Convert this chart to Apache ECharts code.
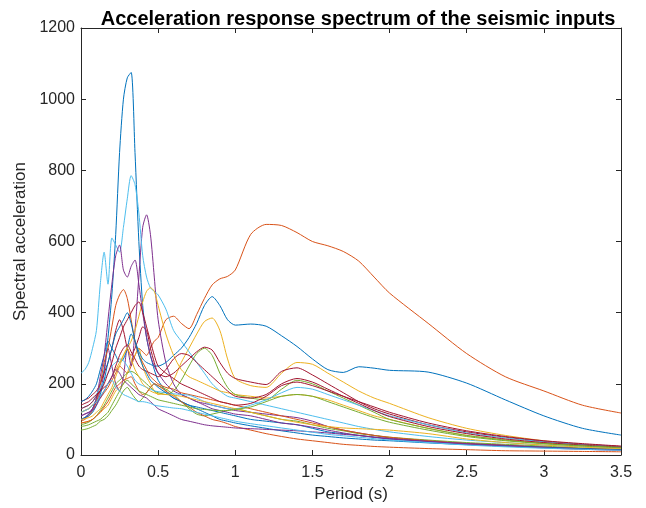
<!DOCTYPE html>
<html>
<head>
<meta charset="utf-8">
<script src="https://cdn.jsdelivr.net/npm/echarts@6/dist/echarts.min.js"></script>
<style>
html,body{margin:0;padding:0;background:#fff;}
#chart{width:646px;height:508px;}
</style>
</head>
<body>
<div id="chart"></div>
<script>
// periods (s)
var periods = [0,0.025,0.05,0.075,0.1,0.125,0.15,0.175,0.2,0.225,
  0.25,0.275,0.3,0.325,0.35,0.375,0.4,0.425,0.45,0.475,
  0.5,0.55,0.6,0.65,0.7,0.75,0.8,0.85,0.9,0.95,
  1.0,1.1,1.2,1.3,1.4,1.5,1.6,1.7,1.8,1.9,
  2.0,2.25,2.5,2.75,3.0,3.25,3.5];

// matlab default colour order
var colors = ['#0072BD','#D95319','#EDB120','#7E2F8E','#77AC30','#4DBEEE','#A2142F'];

var rec1 = [100,105,115,130,160,200,240,330,450,620, 850,1000,1060,1075,850,600,420,330,280,240, 210,180,160,150,140,135,130,125,120,115, 110,100,95,90,85,75,65,60,55,50, 45,38,32,27,22,18,15];
var rec2 = [120,125,130,140,150,160,175,190,210,230, 250,240,230,250,280,300,290,280,300,320, 330,380,390,370,355,395,440,478,495,502, 520,620,648,645,625,600,588,572,545,500, 455,370,285,220,180,140,118];
var rec3 = [90,92,95,100,110,120,130,140,160,180, 190,200,230,260,280,300,250,220,200,180, 170,180,210,260,300,340,375,385,350,270, 215,195,190,230,260,255,230,205,180,160, 145,105,75,55,40,30,24];
var rec4 = [110,115,120,130,150,180,230,300,250,200, 180,220,300,250,350,500,640,675,620,500, 380,260,200,170,160,150,145,140,135,130, 125,120,115,110,105,95,80,70,62,55, 48,40,33,27,22,18,15];
var rec5 = [70,72,75,80,85,95,100,110,125,140, 160,180,190,175,160,150,160,175,190,200, 195,185,170,150,130,115,110,115,120,125, 130,120,110,100,95,85,75,68,60,55, 50,42,35,30,25,20,17];
var rec6 = [230,240,260,300,350,480,570,480,610,590, 570,640,720,785,760,680,560,500,470,460, 450,410,350,320,290,260,230,200,180,165, 160,150,140,130,120,110,100,90,80,72, 65,52,42,35,28,23,19];
var rec7 = [150,155,160,170,180,200,230,260,300,350, 380,350,300,280,300,330,360,350,300,260, 230,220,230,250,270,290,303,295,260,230, 215,205,198,235,245,225,200,175,150,130, 115,85,65,50,38,30,24];
var rec8 = [150,155,165,180,200,240,280,320,300,280, 260,270,300,340,320,290,270,260,255,250, 250,260,280,300,330,370,420,445,420,380, 365,368,362,335,305,270,240,232,248,244, 238,233,202,155,110,75,56];
var rec9 = [95,100,110,125,150,200,260,300,360,420, 450,465,440,380,320,280,260,240,220,210, 200,190,185,175,170,165,160,155,150,145, 140,130,120,110,100,90,80,70,62,55, 50,40,32,27,22,18,15];
var rec10 = [120,125,130,140,150,165,180,200,220,240, 260,280,300,320,350,390,430,460,470,460, 420,340,280,240,220,210,200,190,180,175, 170,165,160,165,170,165,155,140,125,110, 100,75,55,42,33,27,22];
var rec11 = [100,105,115,130,160,220,280,380,480,560, 590,520,500,530,548,480,400,330,280,250, 230,200,180,170,160,150,140,130,125,120, 115,110,100,90,85,78,70,62,55,50, 45,38,32,27,22,18,15];
var rec12 = [85,88,92,100,110,125,140,160,180,200, 210,220,230,235,230,220,210,200,190,180, 175,170,180,210,250,285,300,280,230,190, 170,160,155,185,210,200,180,160,140,120, 100,75,55,42,32,25,20];
var rec13 = [130,135,140,150,170,190,210,230,250,260, 270,265,250,230,210,200,195,190,185,180, 178,175,172,170,168,160,150,140,135,130, 130,140,155,175,190,185,170,155,140,125, 110,85,62,48,37,29,23];
var rec14 = [140,145,150,160,170,180,190,200,220,250, 280,300,310,290,270,250,240,235,230,225, 220,240,270,285,280,260,240,220,200,180, 165,160,170,200,215,205,185,165,145,125, 108,80,60,45,35,28,22];
var rec15 = [100,105,110,120,140,170,210,260,300,340, 360,380,400,370,320,280,250,230,210,200, 190,175,160,150,140,130,120,110,100,95, 90,82,75,68,62,56,52,48,45,42, 40,34,29,25,21,18,15];
var rec16 = [90,92,95,100,110,120,135,150,170,190, 200,210,215,220,200,180,170,175,190,200, 195,180,165,150,135,120,110,100,95,88, 80,70,60,52,45,40,35,30,27,24, 22,18,15,12,11,10,9];
var rec17 = [100,102,105,110,120,130,150,170,190,220, 250,280,300,270,240,220,200,190,180,175, 172,170,168,165,160,155,150,145,140,135, 130,120,110,100,92,85,80,76,74,72, 70,60,45,35,28,22,18];
var rec18 = [110,115,120,125,140,160,180,200,220,240, 230,210,200,190,180,170,165,160,150,140, 130,120,110,100,95,90,85,82,80,78, 76,74,72,70,68,65,62,58,55,50, 46,38,30,25,20,16,13];
var rec19 = [80,82,85,90,95,100,110,120,140,160, 180,200,210,200,190,180,175,170,165,160, 155,150,145,140,135,130,128,126,125,125, 128,135,150,165,170,165,150,135,120,105, 92,70,52,40,32,26,21];
var rec20 = [120,125,130,140,150,165,180,200,210,190, 180,170,165,160,155,150,150,148,145,140, 138,135,132,130,125,120,115,110,105,100, 95,88,82,76,70,64,58,54,50,46, 42,35,28,23,19,16,13];
var rec21 = [130,135,140,150,165,180,200,230,260,300, 330,360,380,400,420,430,400,360,320,280, 250,230,215,200,190,180,170,160,150,145, 140,145,165,195,205,195,180,165,150,135, 120,90,68,52,40,32,25];

var records = [rec1,rec2,rec3,rec4,rec5,rec6,rec7,rec8,rec9,rec10,rec11,
  rec12,rec13,rec14,rec15,rec16,rec17,rec18,rec19,rec20,rec21];

var myChart = echarts.init(document.getElementById('chart'));
var axisCol = '#262626';
var font = 'Liberation Sans, Arial, sans-serif';

var series = [];
for (var i = 0; i < records.length; i++) {
  var pts = [];
  for (var j = 0; j < periods.length; j++) {
    pts.push([periods[j], records[i][j]]);
  }
  series.push({
    type: 'line',
    data: pts,
    showSymbol: false,
    smooth: 0.25,
    lineStyle: {width: 1, color: colors[i % 7]},
    itemStyle: {color: colors[i % 7]},
    silent: true,
    animation: false
  });
}

// box axes: ticks pointing in, no labels
function boxAxis(pos, min, max, step) {
  return {
    type: 'value', min: min, max: max, interval: step, position: pos,
    axisLine: {show: true, onZero: false, lineStyle: {color: axisCol}},
    axisTick: {show: true, inside: true, length: 5, lineStyle: {color: axisCol}},
    axisLabel: {show: false}, splitLine: {show: false}
  };
}

var option = {
  backgroundColor: '#fff',
  animation: false,
  title: {
    text: 'Acceleration response spectrum of the seismic inputs',
    left: 353,
    textAlign: 'center',
    top: 4,
    textStyle: {fontFamily: font, fontSize: 20, fontWeight: 'bold', color: '#000'}
  },
  grid: {left: 81, right: 25, top: 28, bottom: 53},
  xAxis: [{
    type: 'value', min: 0, max: 3.5, interval: 0.5,
    name: 'Period (s)', nameLocation: 'middle', nameGap: 31,
    nameTextStyle: {fontFamily: font, fontSize: 17, color: axisCol},
    axisLine: {show: true, onZero: false, lineStyle: {color: axisCol}},
    axisTick: {show: true, inside: true, length: 5, lineStyle: {color: axisCol}},
    axisLabel: {fontFamily: font, fontSize: 16, color: axisCol, margin: 10},
    splitLine: {show: false}
  }, boxAxis('top', 0, 3.5, 0.5)],
  yAxis: [{
    type: 'value', min: 0, max: 1200, interval: 200,
    name: 'Spectral acceleration', nameLocation: 'middle', nameGap: 52,
    nameTextStyle: {fontFamily: font, fontSize: 17, color: axisCol},
    axisLine: {show: true, onZero: false, lineStyle: {color: axisCol}},
    axisTick: {show: true, inside: true, length: 5, lineStyle: {color: axisCol}},
    axisLabel: {fontFamily: font, fontSize: 16, color: axisCol, margin: 6,
      formatter: function (v) { return String(v); }},
    splitLine: {show: false}
  }, boxAxis('right', 0, 1200, 200)],
  series: series
};

myChart.setOption(option);
</script>
</body>
</html>
